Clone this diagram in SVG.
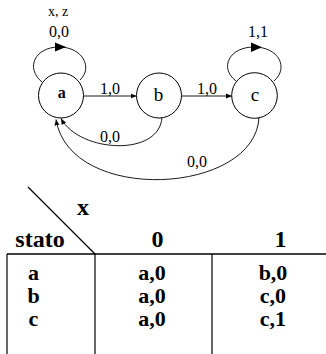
<svg xmlns="http://www.w3.org/2000/svg" width="326" height="354" viewBox="0 0 326 354">
<style>
.node{fill:#fff;stroke:#000;stroke-width:1}
.edge{fill:none;stroke:#000;stroke-width:0.9}
.lbl{font-family:"Liberation Serif","Times New Roman",serif;font-size:16px;fill:#000}
.nl{font-family:"Liberation Serif","Times New Roman",serif;font-size:19px;fill:#000;text-anchor:middle}
.tb{font-family:"Liberation Serif","Times New Roman",serif;font-size:24px;font-weight:bold;fill:#000;text-anchor:middle}
.tr{font-size:22px}
.tl{stroke:#000;stroke-width:1.2;fill:none}
</style>
<defs>
<marker id="ah" markerUnits="userSpaceOnUse" markerWidth="7" markerHeight="6" refX="6" refY="3" orient="auto">
<path d="M0,0.5 L6,3 L0,5.5 Z" fill="#000"/>
</marker>
</defs>
<rect width="326" height="354" fill="#fff"/>
<g id="connectors">
<path class="edge" d="M42,82 C25,68 35,47 59,47 C83,47 93,68 80,80"/>
<polygon points="55,42.5 55,51.5 66,47" fill="#000"/>
<path class="edge" d="M236,81 C219,68 229,47 254,47 C279,47 289,68 274,81"/>
<polygon points="251,42.5 251,52 262,47.3" fill="#000"/>
<line class="edge" x1="83.5" y1="96" x2="136.5" y2="96" marker-end="url(#ah)"/>
<line class="edge" x1="181.5" y1="96" x2="232" y2="96" marker-end="url(#ah)"/>
<path class="edge" d="M162,117 C160,157 80,153 61,118.5" marker-end="url(#ah)"/>
<path class="edge" d="M259,117 C256,195 70,205 56,119.5" marker-end="url(#ah)"/>
<text class="lbl" x="48" y="16" style="font-size:14px">x, z</text>
<text class="lbl" x="49" y="36.7">0,0</text>
<text class="lbl" x="248" y="36.7">1,1</text>
<text class="lbl" x="100" y="94">1,0</text>
<text class="lbl" x="197" y="94">1,0</text>
<text class="lbl" x="100" y="142">0,0</text>
<text class="lbl" x="187" y="167">0,0</text>
</g>
<g id="node-a">
<circle class="node" cx="61" cy="95.5" r="22.5"/>
<text class="nl" x="61.7" y="98" style="font-size:16px;font-weight:bold">a</text>
</g>
<g id="node-b">
<circle class="node" cx="159" cy="95.5" r="22.5"/>
<text class="nl" x="158.5" y="101">b</text>
</g>
<g id="node-c">
<circle class="node" cx="254.5" cy="95.5" r="22.8"/>
<text class="nl" x="255" y="101">c</text>
</g>
<g id="table">
<line class="tl" x1="28" y1="187" x2="95" y2="254"/>
<line class="tl" x1="7" y1="254" x2="326" y2="254" style="stroke-width:1.6"/>
<line class="tl" x1="7" y1="254" x2="7" y2="354"/>
<line class="tl" x1="95" y1="254" x2="95" y2="354"/>
<line class="tl" x1="212" y1="254" x2="212" y2="354"/>
<text class="tb" x="83" y="215">x</text>
<text class="tb" x="40" y="247">stato</text>
<text class="tb" x="157.5" y="247">0</text>
<text class="tb" x="280.5" y="247">1</text>
<text class="tb tr" x="33.5" y="280">a</text>
<text class="tb tr" x="33.5" y="303">b</text>
<text class="tb tr" x="33.5" y="326">c</text>
<text class="tb tr" x="152" y="280">a,0</text>
<text class="tb tr" x="152" y="303">a,0</text>
<text class="tb tr" x="152" y="326">a,0</text>
<text class="tb tr" x="273" y="280">b,0</text>
<text class="tb tr" x="273" y="303">c,0</text>
<text class="tb tr" x="273" y="326">c,1</text>
</g>
</svg>
